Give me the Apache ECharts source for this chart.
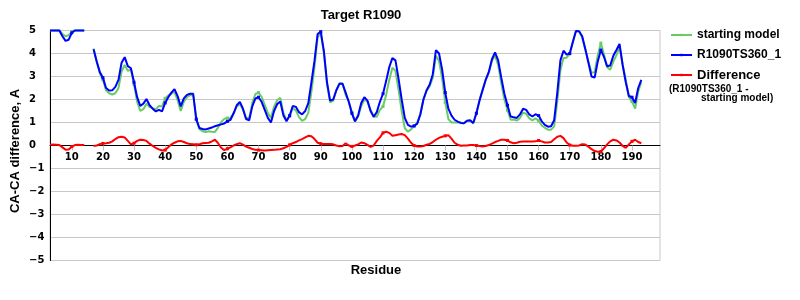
<!DOCTYPE html>
<html>
<head>
<meta charset="utf-8">
<script src="https://cdn.jsdelivr.net/npm/echarts@6/dist/echarts.min.js"></script>
<style>html,body{margin:0;padding:0;background:#fff}#c{width:800px;height:300px}</style>
</head>
<body>
<div id="c"></div>
<script>
// x categories: residues 3..199
const firstResidue = 3, lastResidue = 199;
const residues = [];
for (let r = firstResidue; r <= lastResidue; r++) residues.push(String(r));
const xTickLabels = [10,20,30,40,50,60,70,80,90,100,110,120,130,140,150,160,170,180,190];
const yTicks = [-5,-4,-3,-2,-1,0,1,2,3,4,5];

const seriesNames = ['starting model', 'R1090TS360_1', 'Difference'];

// starting model (residues 3..193)
const startingModel = [
 5,5,5,5,4.85,4.75,4.8,4.95,5,5,5,5,
 null,null,
 4.22,3.65,3.14,2.86,2.4,2.27,2.22,2.27,2.5,3.22,3.5,3.25,3.3,2.65,
 1.9,1.5,1.58,1.82,1.67,1.62,1.58,1.72,1.7,2.05,
 2.18,2.25,2.33,1.97,1.5,1.9,2.1,2.19,2.2,1.12,
 0.71,0.62,0.59,0.62,0.6,0.59,0.78,1.02,1.16,1.19,
 1.2,1.4,1.69,1.8,1.56,1.2,1.2,1.85,2.24,2.3,
 2.11,1.77,1.41,1.2,1.69,1.97,2.07,1.42,1.11,1.27,
 1.62,1.53,1.23,1.07,1.15,1.42,2.35,3.42,4.73,4.87,
 4.03,2.68,1.88,1.95,2.4,2.71,2.7,2.2,1.9,1.44,
 1.05,1.25,1.72,2.0,1.92,1.56,1.25,1.25,1.55,1.7,
 2.2,2.85,3.38,3.25,2.42,1.5,0.75,0.6,0.7,0.85,
 0.99,1.39,2.02,2.37,2.58,2.95,3.9,3.67,2.92,1.88,
 1.15,1.0,1.0,1.01,0.99,0.97,1.08,1.08,0.96,1.4,
 1.97,2.44,2.87,3.18,3.67,3.9,3.5,2.7,2.0,1.53,
 1.12,1.13,1.08,1.19,1.43,1.38,1.18,1.09,1.18,1.08,
 0.87,0.77,0.69,0.69,0.83,1.92,3.28,3.8,3.82,3.98,
 4.51,4.99,4.97,4.69,4.16,3.65,3.16,3.19,3.92,4.45,
 3.97,3.4,3.3,3.65,3.93,4.29,3.52,2.85,2.1,1.92,
 1.6,2.35,2.75
];

// R1090TS360_1 (residues 3..193)
const model = [
 5,5,5,5,4.75,4.55,4.6,4.9,5,5,5,5,
 null,null,
 4.18,3.65,3.2,2.95,2.5,2.39,2.4,2.55,2.85,3.6,3.84,3.45,3.36,2.75,
 2.1,1.72,1.82,2.02,1.75,1.6,1.48,1.55,1.48,1.85,
 2.1,2.3,2.45,2.15,1.7,2.05,2.2,2.25,2.25,1.15,
 0.76,0.72,0.7,0.74,0.78,0.84,0.88,0.92,0.96,1.05,
 1.12,1.4,1.75,1.9,1.6,1.15,1.1,1.7,2.05,2.1,
 1.9,1.55,1.2,1.0,1.5,1.8,1.91,1.3,1.05,1.3,
 1.72,1.68,1.45,1.35,1.5,1.84,2.75,3.7,4.85,4.95,
 4.1,2.75,1.95,2.0,2.4,2.68,2.68,2.3,1.9,1.4,
 1.05,1.3,1.85,2.1,1.95,1.5,1.25,1.45,1.9,2.25,
 2.8,3.4,3.8,3.7,2.9,2.0,1.2,0.9,0.82,0.85,
 0.95,1.35,2.0,2.4,2.65,3.1,4.15,4.0,3.3,2.3,
 1.6,1.3,1.12,1.04,0.98,0.97,1.08,1.1,0.98,1.4,
 1.95,2.4,2.85,3.2,3.75,4.05,3.7,2.95,2.25,1.75,
 1.26,1.23,1.2,1.35,1.6,1.55,1.35,1.26,1.36,1.3,
 1.05,0.9,0.82,0.84,1.1,2.3,3.7,4.12,3.95,4.0,
 4.5,4.98,4.97,4.75,4.2,3.6,3.0,2.95,3.65,4.15,
 3.85,3.45,3.48,3.9,4.15,4.42,3.5,2.75,2.15,2.1,
 1.85,2.5,2.85
];

// Difference (R1090TS360_1 - starting model), residues 3..193
const difference = [
 0.03,0.04,0.03,0.02,-0.08,-0.18,-0.17,-0.05,0.02,0.03,0.02,0.02,
 null,null,
 -0.02,0.0,0.06,0.09,0.1,0.12,0.18,0.28,0.36,0.38,0.35,0.2,0.05,0.1,
 0.2,0.25,0.24,0.2,0.08,-0.02,-0.1,-0.17,-0.22,-0.2,
 -0.08,0.05,0.12,0.18,0.2,0.15,0.1,0.06,0.05,0.03,
 0.05,0.1,0.11,0.12,0.18,0.25,0.1,-0.1,-0.2,-0.14,
 -0.08,0.0,0.06,0.1,0.04,-0.05,-0.1,-0.15,-0.19,-0.2,
 -0.21,-0.22,-0.21,-0.2,-0.19,-0.17,-0.16,-0.12,-0.06,0.03,
 0.1,0.15,0.22,0.28,0.35,0.42,0.4,0.28,0.12,0.08,
 0.07,0.07,0.07,0.05,0.0,-0.03,-0.02,0.1,0.0,-0.04,
 0.0,0.05,0.13,0.1,0.03,-0.06,0.0,0.2,0.35,0.55,
 0.6,0.55,0.42,0.45,0.48,0.5,0.45,0.3,0.12,0.0,
 -0.04,-0.04,-0.02,0.03,0.07,0.15,0.25,0.33,0.38,0.42,
 0.45,0.3,0.12,0.03,-0.01,0.0,0.0,0.02,0.02,0.0,
 -0.02,-0.04,-0.02,0.02,0.08,0.15,0.2,0.25,0.25,0.22,
 0.14,0.1,0.12,0.16,0.17,0.17,0.17,0.17,0.18,0.22,
 0.18,0.13,0.13,0.15,0.27,0.38,0.42,0.32,0.13,0.02,
 -0.01,-0.01,0.0,0.06,0.04,-0.05,-0.16,-0.24,-0.27,-0.26,
 -0.12,0.05,0.18,0.25,0.22,0.13,-0.02,-0.1,0.05,0.18,
 0.25,0.15,0.1
];

const tickFont = 'DejaVu Sans';
const textFont = 'Liberation Sans';
const showTick = (i, v) => xTickLabels.indexOf(Number(v)) >= 0;

const gridTop = 30.5, gridBottom = 39.5, chartH = 300;
// distance from bottom edge of the plot to the y = 0 line (half the plot height)
const zeroOffset = (chartH - gridTop - gridBottom) / 2;

const chart = echarts.init(document.getElementById('c'), null, {renderer: 'canvas'});
function mkSeries(name, data, color, z) {
  return {
    name: name, type: 'line', data: data, z: z,
    symbol: 'rect', symbolSize: 3, showSymbol: true,
    lineStyle: {color: color, width: 2},
    itemStyle: {color: color},
    connectNulls: false, clip: false, animation: false
  };
}
chart.setOption({
  animation: false,
  grid: {left: 50, right: 140, top: gridTop, bottom: gridBottom, show: true,
         borderColor: '#c8c8c8', borderWidth: 1},
  legend: {
    orient: 'vertical', left: 670, top: 28, padding: 0,
    itemWidth: 21, itemHeight: 3, itemGap: 6,
    textStyle: {fontFamily: textFont, fontWeight: 'bold', fontSize: 12, color: '#000', lineHeight: 14},
    data: [seriesNames[0], seriesNames[1], {name: seriesNames[2], textStyle: {fontSize: 13, lineHeight: 14}}]
  },
  xAxis: {
    type: 'category', data: residues, boundaryGap: false, position: 'bottom',
    offset: -zeroOffset,
    axisLine: {onZero: false, lineStyle: {color: '#000', width: 1}},
    axisTick: {show: true, interval: showTick, length: 5, lineStyle: {color: '#c0c0c0'}},
    axisLabel: {interval: showTick, margin: 7, fontFamily: tickFont, fontWeight: 'bold',
                fontSize: 10, color: '#000'},
    splitLine: {show: false}
  },
  yAxis: {
    type: 'value', min: yTicks[0], max: yTicks[yTicks.length - 1], interval: 1,
    axisLine: {show: true, lineStyle: {color: '#000', width: 1}},
    axisTick: {show: false},
    axisLabel: {align: 'left', margin: 21, fontFamily: tickFont, fontWeight: 'bold',
                fontSize: 10, color: '#000',
                formatter: v => String(v).replace('-', '\u2212')},
    splitLine: {lineStyle: {color: '#c8c8c8', width: 1}}
  },
  graphic: [
    {type: 'text', x: 361, y: 15, style: {text: 'Target R1090', font: 'bold 13px "Liberation Sans"',
      fill: '#000', textAlign: 'center', textVerticalAlign: 'middle'}},
    {type: 'text', x: 376, y: 270, style: {text: 'Residue', font: 'bold 13px "Liberation Sans"',
      fill: '#000', textAlign: 'center', textVerticalAlign: 'middle'}},
    {type: 'text', x: 15, y: 151, rotation: Math.PI / 2, style: {text: 'CA-CA difference, A',
      font: 'bold 13px "Liberation Sans"', fill: '#000', textAlign: 'center', textVerticalAlign: 'middle'}},
    {type: 'text', x: 669, y: 89.5, style: {text: '(R1090TS360_1 -', font: 'bold 10px "Liberation Sans"',
      fill: '#000', textAlign: 'left', textVerticalAlign: 'middle'}},
    {type: 'text', x: 701, y: 98.5, style: {text: 'starting model)', font: 'bold 10px "Liberation Sans"',
      fill: '#000', textAlign: 'left', textVerticalAlign: 'middle'}}
  ],
  series: [
    mkSeries(seriesNames[0], startingModel, '#66cc66', 2),
    mkSeries(seriesNames[1], model, '#0000ff', 3),
    mkSeries(seriesNames[2], difference, '#ff0000', 4)
  ]
});
</script>
</body>
</html>
